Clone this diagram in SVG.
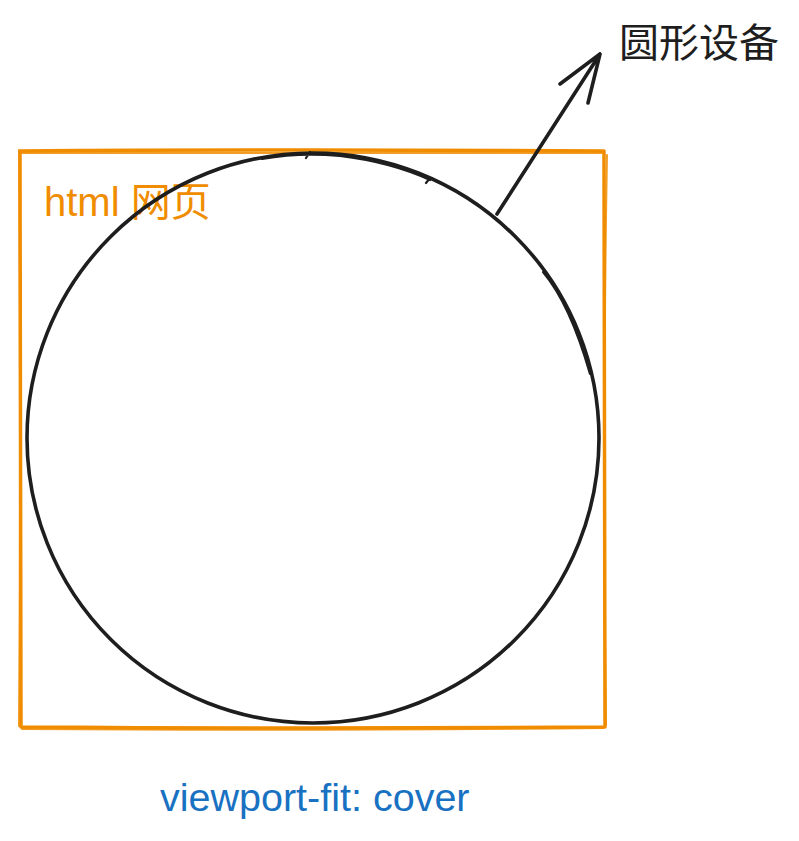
<svg xmlns="http://www.w3.org/2000/svg" width="799" height="841" viewBox="0 0 799 841">
<style>
.frame{fill:none;stroke:#f08c00;stroke-width:3.5;stroke-linecap:round;stroke-linejoin:round}
.frame2{fill:none;stroke:#f08c00;stroke-width:2;stroke-linecap:round;opacity:0.85}
.ink{fill:none;stroke:#1e1e1e;stroke-width:3.6;stroke-linecap:round;stroke-linejoin:round}
.ink2{fill:none;stroke:#1e1e1e;stroke-width:2.2;stroke-linecap:round}
.t{font-family:"Liberation Sans","Noto Sans CJK SC",Arial,sans-serif}
</style>
<rect width="799" height="841" fill="#ffffff"/>
<g id="html-page">
<path class="frame" d="M20 151 Q300 149 604 151 L605 727 Q300 729 21 727 Z"/>
<path class="frame2" d="M22 153 Q310 152 603 153 M607 155 Q602 440 606 725 M19 150 Q21 440 19 726 M22 729 Q300 731 603 728"/>
<text class="t" x="44" y="216" font-size="40" fill="#f08c00">html 网页</text>
</g>
<g id="round-device">
<ellipse class="ink" cx="313" cy="438" rx="286" ry="285"/>
<path class="ink2" d="M262 159 Q300 152 340 156 Q390 162 430 180 M310 152 L306 158 M430 178 L426 183 M543 272 Q570 304 590 374"/>
</g>
<g id="connectors">
<path class="ink" d="M497 214 L600 54 M560 84 L600 54 L588 103"/>
</g>
<g id="labels">
<text class="t" x="619" y="57" font-size="40" fill="#1e1e1e">圆形设备</text>
<text class="t" x="160" y="811" font-size="39.5" fill="#1971c2">viewport-fit: cover</text>
</g>
</svg>
